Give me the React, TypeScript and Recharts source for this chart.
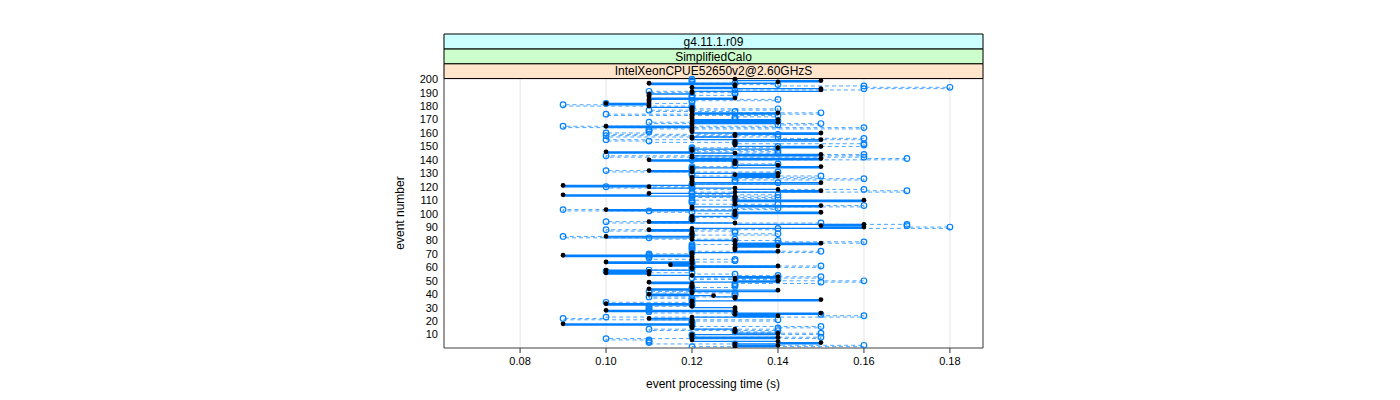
import React from 'react';
import { ComposedChart, XAxis, YAxis, CartesianGrid, Line, Scatter, ReferenceArea } from 'recharts';

const FONT = '"Liberation Sans", Arial, Helvetica, sans-serif';

// event numbers (categories on the y axis)
const events: number[] = Array.from({ length: 200 }, (_, i) => i + 1);

// black filled points: event processing time (s)
const blackTimes: number[] = [
  0.13, 0.14, 0.13, 0.15, 0.14, 0.12, 0.12, 0.14, 0.12, 0.12,
  0.14, 0.13, 0.13, 0.13, 0.12, 0.12, 0.12, 0.09, 0.12, 0.12,
  0.12, 0.11, 0.12, 0.14, 0.13, 0.15, 0.13, 0.10, 0.13, 0.13,
  0.12, 0.12, 0.10, 0.12, 0.12, 0.15, 0.13, 0.13, 0.125, 0.11,
  0.12, 0.12, 0.14, 0.11, 0.12, 0.12, 0.12, 0.12, 0.11, 0.14,
  0.13, 0.13, 0.14, 0.12, 0.11, 0.10, 0.11, 0.10, 0.12, 0.12,
  0.14, 0.115, 0.12, 0.10, 0.12, 0.12, 0.12, 0.12, 0.09, 0.12,
  0.12, 0.14, 0.13, 0.13, 0.13, 0.14, 0.13, 0.15, 0.13, 0.13,
  0.12, 0.12, 0.10, 0.12, 0.12, 0.12, 0.12, 0.11, 0.12, 0.16,
  0.15, 0.16, 0.13, 0.11, 0.12, 0.12, 0.12, 0.12, 0.13, 0.13,
  0.15, 0.13, 0.10, 0.12, 0.12, 0.15, 0.13, 0.13, 0.13, 0.16,
  0.13, 0.13, 0.13, 0.09, 0.11, 0.13, 0.15, 0.14, 0.13, 0.11,
  0.09, 0.12, 0.15, 0.12, 0.12, 0.12, 0.12, 0.14, 0.13, 0.14,
  0.12, 0.11, 0.12, 0.12, 0.15, 0.14, 0.13, 0.13, 0.13, 0.11,
  0.15, 0.12, 0.12, 0.15, 0.13, 0.10, 0.12, 0.12, 0.14, 0.15,
  0.13, 0.13, 0.13, 0.13, 0.15, 0.12, 0.12, 0.13, 0.13, 0.15,
  0.12, 0.12, 0.12, 0.12, 0.10, 0.12, 0.12, 0.14, 0.12, 0.14,
  0.12, 0.12, 0.12, 0.12, 0.14, 0.12, 0.12, 0.12, 0.12, 0.11,
  0.11, 0.10, 0.11, 0.11, 0.11, 0.13, 0.11, 0.11, 0.11, 0.12,
  0.12, 0.15, 0.15, 0.12, 0.13, 0.13, 0.11, 0.14, 0.15, 0.13,
];

// blue open circles: event processing time (s)
const blueTimes: number[] = [
  0.12, 0.16, 0.13, 0.11, 0.11, 0.11, 0.10, 0.15, 0.12, 0.12,
  0.15, 0.13, 0.14, 0.11, 0.14, 0.15, 0.12, 0.12, 0.12, 0.12,
  0.14, 0.09, 0.10, 0.16, 0.15, 0.13, 0.11, 0.11, 0.11, 0.11,
  0.11, 0.12, 0.12, 0.10, 0.12, 0.12, 0.12, 0.11, 0.13, 0.13,
  0.13, 0.11, 0.12, 0.12, 0.12, 0.13, 0.13, 0.13, 0.15, 0.16,
  0.14, 0.12, 0.15, 0.14, 0.13, 0.12, 0.10, 0.11, 0.12, 0.12,
  0.15, 0.12, 0.12, 0.12, 0.13, 0.13, 0.11, 0.11, 0.11, 0.11,
  0.12, 0.15, 0.12, 0.12, 0.12, 0.12, 0.12, 0.14, 0.16, 0.14,
  0.13, 0.11, 0.09, 0.12, 0.14, 0.13, 0.13, 0.10, 0.14, 0.18,
  0.17, 0.17, 0.15, 0.10, 0.12, 0.12, 0.12, 0.13, 0.13, 0.13,
  0.12, 0.11, 0.09, 0.14, 0.13, 0.16, 0.14, 0.12, 0.12, 0.12,
  0.13, 0.14, 0.12, 0.14, 0.12, 0.12, 0.17, 0.16, 0.12, 0.10,
  0.12, 0.12, 0.14, 0.13, 0.13, 0.16, 0.13, 0.15, 0.12, 0.12,
  0.14, 0.10, 0.12, 0.12, 0.12, 0.13, 0.14, 0.13, 0.13, 0.12,
  0.17, 0.16, 0.10, 0.16, 0.14, 0.12, 0.14, 0.12, 0.12, 0.14,
  0.16, 0.16, 0.13, 0.11, 0.10, 0.16, 0.14, 0.10, 0.14, 0.10,
  0.11, 0.11, 0.11, 0.16, 0.09, 0.14, 0.15, 0.11, 0.14, 0.13,
  0.13, 0.13, 0.14, 0.10, 0.15, 0.13, 0.11, 0.14, 0.12, 0.12,
  0.09, 0.10, 0.12, 0.12, 0.14, 0.12, 0.12, 0.12, 0.13, 0.13,
  0.11, 0.13, 0.16, 0.18, 0.16, 0.14, 0.13, 0.12, 0.12, 0.12,
];

const xTicks: number[] = [0.08, 0.1, 0.12, 0.14, 0.16, 0.18];
const yTicks: number[] = [10, 20, 30, 40, 50, 60, 70, 80, 90, 100, 110, 120, 130, 140, 150, 160, 170, 180, 190, 200];
const stripLabels: string[] = ['IntelXeonCPUE52650v2@2.60GHzS', 'SimplifiedCalo', 'g4.11.1.r09'];
const stripColors: string[] = ['#ffe5cc', '#ccffcc', '#ccffff'];

const X_MIN = 0.0623;
const X_MAX = 0.1877;
const Y_MIN = 0;
const Y_PANEL_TOP = 200.5;
const STRIP_H = 11.05;
const Y_MAX = Y_PANEL_TOP + STRIP_H * 3;

const data = events.map((e, i) => ({ event: e, black: blackTimes[i], blue: blueTimes[i] }));

const BlackDot = (props: any) => {
  const { cx, cy } = props;
  if (cx == null || cy == null) return null;
  return <circle cx={cx} cy={cy} r={2.4} fill="#000" />;
};

const BlueCircle = (props: any) => {
  const { cx, cy } = props;
  if (cx == null || cy == null) return null;
  return <circle cx={cx} cy={cy} r={2.8} fill="none" stroke="#0080ff" strokeWidth={1.2} />;
};

export default function App() {
  return (
    <div style={{ position: 'relative', width: 1384, height: 384, fontFamily: FONT }}>
      <ComposedChart
        width={1384}
        height={384}
        data={data}
        layout="vertical"
        margin={{ top: 26, right: 409, left: 0, bottom: 0 }}
        style={{ fontFamily: FONT }}
      >
        <CartesianGrid horizontal={false} stroke="#e6e6e6" strokeWidth={1} />
        <XAxis
          type="number"
          domain={[X_MIN, X_MAX]}
          ticks={xTicks}
          tickFormatter={(v: number) => v.toFixed(2)}
          height={44}
          tickSize={5}
          tickMargin={4}
          axisLine={false}
          stroke="#333"
          tick={{ fill: '#000', fontSize: 11 }}
          allowDataOverflow
        />
        <XAxis
          xAxisId="top"
          orientation="top"
          type="number"
          domain={[X_MIN, X_MAX]}
          ticks={xTicks}
          height={0}
          tick={false}
          tickSize={5}
          axisLine={false}
          stroke="#333"
          allowDataOverflow
        />
        <YAxis
          type="number"
          dataKey="event"
          domain={[Y_MIN, Y_MAX]}
          ticks={yTicks}
          width={436}
          reversed
          tickLine={false}
          tickSize={0}
          tickMargin={6}
          axisLine={false}
          tick={{ fill: '#000', fontSize: 11 }}
          interval={0}
          allowDataOverflow
        />
        <Line
          dataKey="blue"
          type="stepAfter"
          stroke="#0080ff"
          strokeOpacity={0.7}
          strokeWidth={1}
          strokeDasharray="4 3"
          dot={false}
          activeDot={false}
          isAnimationActive={false}
        />
        <Line
          dataKey="black"
          type="stepAfter"
          stroke="#0080ff"
          strokeWidth={1.3}
          dot={false}
          activeDot={false}
          isAnimationActive={false}
        />
        <Scatter dataKey="blue" shape={BlueCircle} isAnimationActive={false} />
        <Scatter dataKey="black" shape={BlackDot} isAnimationActive={false} />
        <ReferenceArea
          x1={X_MIN}
          x2={X_MAX}
          y1={Y_MIN}
          y2={Y_PANEL_TOP}
          fill="none"
          fillOpacity={0}
          stroke="#404040"
          strokeWidth={1}
        />
        {stripLabels.map((lab, i) => (
          <ReferenceArea
            key={lab}
            x1={X_MIN}
            x2={X_MAX}
            y1={Y_PANEL_TOP + STRIP_H * i}
            y2={Y_PANEL_TOP + STRIP_H * (i + 1)}
            fill={stripColors[i]}
            fillOpacity={1}
            stroke="#000"
            strokeWidth={1}
            label={{ value: lab, position: 'center', fill: '#000', fontSize: 12, fontFamily: FONT }}
          />
        ))}
      </ComposedChart>
      <div
        style={{
          position: 'absolute',
          left: 505,
          width: 400,
          top: 369,
          textAlign: 'center',
          fontSize: 12,
          lineHeight: '14px',
          color: '#000',
        }}
      >
        event processing time (s)
      </div>
      <div
        style={{
          position: 'absolute',
          left: 292,
          width: 200,
          top: 198,
          textAlign: 'center',
          fontSize: 12,
          lineHeight: '14px',
          color: '#000',
          transform: 'rotate(-90deg)',
          transformOrigin: '50% 50%',
        }}
      >
        event number
      </div>
    </div>
  );
}
